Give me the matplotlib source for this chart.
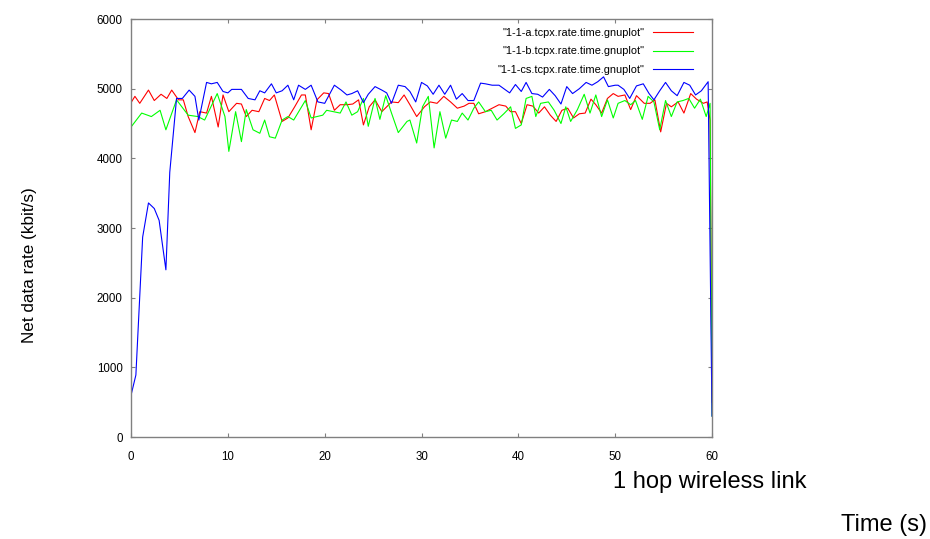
"""Net data rate over time for three TCP runs on a 1 hop wireless link."""

import matplotlib

matplotlib.use("Agg")
import matplotlib.pyplot as plt

plt.rcParams["font.family"] = ["Liberation Sans", "DejaVu Sans"]

# Readings taken off the gnuplot output (time in s, rate in kbit/s).
TIME_A = [
    0, 0.4, 0.9, 1.8, 2.4, 3.1, 3.7, 4.2, 4.9, 5.4,
    5.9, 6.6, 7.1, 7.8, 8.3, 9.0, 9.5, 10.1, 10.9, 11.4,
    11.9, 12.5, 13.2, 13.8, 14.3, 14.8, 15.6, 16.2, 16.9, 17.6,
    18.0, 18.6, 19.2, 19.9, 20.4, 21.0, 21.6, 22.3, 22.9, 23.5,
    24.0, 24.6, 25.2, 25.9, 26.4, 26.9, 27.6, 28.2, 28.8, 29.5,
    30.3, 30.9, 31.6, 32.3, 33.0, 33.7, 34.4, 34.9, 35.4, 35.9,
    36.6, 37.3, 38.0, 38.7, 39.2, 39.7, 40.3, 40.9, 41.5, 42.1,
    42.7, 43.3, 43.9, 44.5, 45.1, 45.7, 46.3, 46.9, 47.5, 48.0,
    48.6, 49.2, 49.8, 50.3, 51.0, 51.6, 52.2, 53.0, 53.6, 54.1,
    54.7, 55.3, 55.8, 56.5, 57.1, 57.8, 58.4, 59.1, 59.5, 59.8,
    60.0,
]
RATE_A = [
    4800, 4890, 4790, 4980, 4830, 4920, 4860, 4980, 4840, 4840,
    4600, 4370, 4670, 4650, 4890, 4450, 4910, 4670, 4790, 4780,
    4600, 4690, 4670, 4860, 4830, 4910, 4530, 4580, 4740, 4910,
    4910, 4410, 4840, 4940, 4930, 4690, 4770, 4770, 4780, 4840,
    4480, 4740, 4840, 4670, 4740, 4810, 4800, 4910, 4770, 4600,
    4740, 4810, 4790, 4890, 4810, 4720, 4750, 4790, 4790, 4640,
    4670, 4720, 4770, 4750, 4670, 4670, 4500, 4770, 4750, 4650,
    4740, 4620, 4530, 4690, 4720, 4580, 4640, 4650, 4850, 4770,
    4650, 4860, 4930, 4890, 4910, 4700, 4900, 4790, 4790, 4840,
    4380, 4790, 4740, 4810, 4650, 4930, 4850, 4790, 4810, 4550,
    500,
]

TIME_B = [
    0, 1.1, 2.1, 3.0, 3.6, 4.7, 5.9, 6.9, 7.6, 8.9,
    9.7, 10.1, 10.8, 11.4, 11.9, 12.6, 13.3, 13.8, 14.3, 14.9,
    15.6, 16.2, 16.8, 17.4, 18.0, 18.6, 19.2, 19.8, 20.2, 20.9,
    21.6, 22.2, 22.8, 23.4, 24.0, 24.5, 25.2, 25.7, 26.3, 26.9,
    27.6, 28.5, 28.8, 29.5, 30.1, 30.7, 31.3, 31.9, 32.5, 33.1,
    33.7, 34.2, 34.8, 35.4, 35.9, 36.6, 37.2, 37.8, 38.5, 39.2,
    39.7, 40.3, 40.8, 41.4, 41.8, 42.3, 43.1, 43.7, 44.4, 44.9,
    45.4, 46.1, 46.8, 47.4, 48.0, 48.6, 49.2, 49.8, 50.3, 51.0,
    51.6, 52.1, 52.8, 53.4, 54.0, 54.6, 55.2, 55.8, 56.4, 57.0,
    57.6, 58.2, 58.8, 59.4, 59.8, 60.0,
]
RATE_B = [
    4450, 4650, 4600, 4690, 4410, 4840, 4620, 4600, 4550, 4930,
    4600, 4100, 4670, 4240, 4700, 4410, 4360, 4550, 4310, 4290,
    4550, 4600, 4550, 4690, 4830, 4580, 4600, 4620, 4690, 4670,
    4650, 4810, 4620, 4670, 4860, 4460, 4860, 4560, 4900, 4650,
    4370, 4530, 4550, 4220, 4740, 4890, 4150, 4670, 4290, 4550,
    4530, 4650, 4550, 4720, 4810, 4670, 4690, 4550, 4640, 4740,
    4430, 4480, 4860, 4890, 4600, 4790, 4810, 4690, 4500, 4740,
    4530, 4700, 4920, 4650, 4910, 4600, 4840, 4580, 4790, 4830,
    4770, 4830, 4560, 4890, 4810, 4410, 4830, 4600, 4810, 4830,
    4860, 4720, 4850, 4600, 4790, 300,
]

TIME_CS = [
    0, 0.5, 1.2, 1.8, 2.4, 2.9, 3.6, 4.0, 4.7, 5.3,
    6.0, 6.6, 7.0, 7.8, 8.3, 8.9, 9.5, 10.0, 10.4, 11.4,
    12.1, 12.8, 13.3, 13.8, 14.5, 15.0, 15.6, 16.2, 16.8, 17.3,
    18.0, 18.6, 19.3, 20.0, 21.0, 21.7, 22.3, 22.8, 23.4, 24.0,
    24.5, 25.2, 25.9, 26.4, 26.9, 27.6, 28.3, 28.8, 29.4, 30.0,
    30.6, 31.2, 31.8, 32.4, 33.0, 33.6, 34.2, 34.8, 35.4, 36.1,
    36.6, 37.3, 38.0, 38.5, 39.1, 39.7, 40.3, 40.8, 41.4, 42.0,
    42.5, 43.2, 43.8, 44.4, 45.0, 45.6, 46.3, 47.0, 47.6, 48.2,
    48.8, 49.3, 50.0, 50.3, 50.9, 51.5, 52.2, 52.9, 53.5, 54.0,
    54.6, 55.2, 55.8, 56.4, 57.1, 57.7, 58.3, 58.9, 59.6, 60.0,
]
RATE_CS = [
    600, 890, 2870, 3360, 3280, 3110, 2400, 3800, 4860, 4860,
    4980, 4890, 4550, 5090, 5070, 5090, 4960, 4940, 4990, 4990,
    4860, 4840, 4970, 4940, 5070, 4940, 4970, 5050, 4840, 5050,
    4990, 5050, 4810, 4790, 5050, 4980, 4910, 4930, 4970, 4800,
    4920, 5030, 4980, 4940, 4790, 5050, 5030, 4960, 4810, 5090,
    5040, 4920, 5050, 4920, 5050, 4850, 4930, 4830, 4830, 5080,
    5070, 5050, 5050, 5000, 4940, 5060, 4960, 5090, 4930, 4920,
    4880, 4990, 4900, 4780, 5030, 4930, 5000, 5090, 5050, 5100,
    5170, 5030, 5050, 5050, 4990, 4860, 5040, 5070, 4930, 4840,
    4970, 5090, 4970, 4900, 5090, 5050, 4910, 4970, 5100, 300,
]

SERIES = [
    ("\"1-1-a.tcpx.rate.time.gnuplot\"", TIME_A, RATE_A, "#ff0000"),
    ("\"1-1-b.tcpx.rate.time.gnuplot\"", TIME_B, RATE_B, "#00ff00"),
    ("\"1-1-cs.tcpx.rate.time.gnuplot\"", TIME_CS, RATE_CS, "#0000ff"),
]

X_TICKS = [0, 10, 20, 30, 40, 50, 60]
Y_TICKS = [0, 1000, 2000, 3000, 4000, 5000, 6000]

FRAME_COLOR = "#808080"


def main() -> None:
    fig = plt.figure(figsize=(9.3, 5.39), dpi=100)
    ax = fig.add_axes([0.1409, 0.1892, 0.6247, 0.7755])

    for label, times, rates, color in SERIES:
        ax.plot(times, rates, color=color, linewidth=0.8, label=label)

    ax.set_xlim(0, 60)
    ax.set_ylim(0, 6000)
    ax.set_xticks(X_TICKS)
    ax.set_yticks(Y_TICKS)

    for spine in ax.spines.values():
        spine.set_color(FRAME_COLOR)
        spine.set_linewidth(1.0)
    ax.tick_params(
        axis="both", direction="in", length=3, width=0.8, color=FRAME_COLOR,
        top=True, right=True, labelsize=8.3, labelcolor="black",
    )
    ax.tick_params(axis="x", pad=10)
    ax.tick_params(axis="y", pad=6)

    ax.legend(
        loc="upper right",
        bbox_to_anchor=(0.967, 0.979),
        borderaxespad=0,
        borderpad=0,
        frameon=False,
        markerfirst=False,
        fontsize=7.9,
        handlelength=3.65,
        handletextpad=0.75,
        labelspacing=0.78,
    )

    fig.text(0.032, 0.508, "Net data rate (kbit/s)", rotation=90,
             ha="center", va="center", fontsize=12.3)
    fig.text(0.763, 0.106, "1 hop wireless link", ha="center", va="center",
             fontsize=17)
    fig.text(0.951, 0.026, "Time (s)", ha="center", va="center", fontsize=17)

    fig.savefig("out.png", dpi=100)
    plt.close(fig)


if __name__ == "__main__":
    main()
